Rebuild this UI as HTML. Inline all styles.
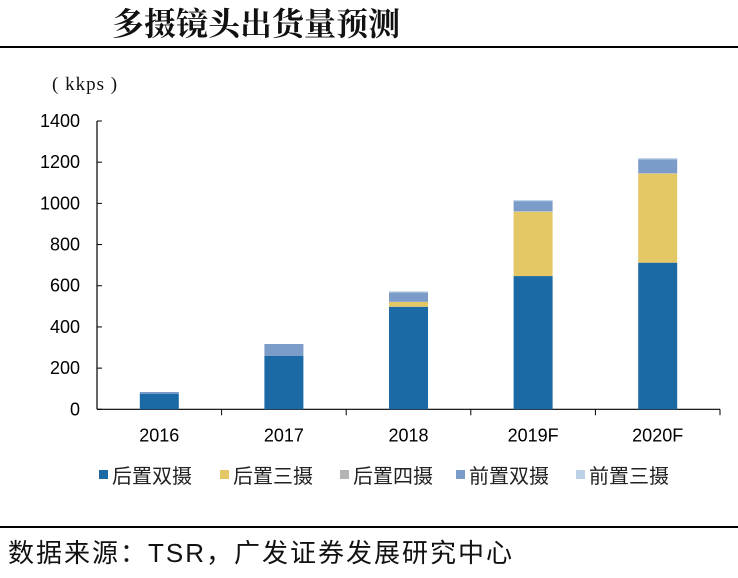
<!DOCTYPE html>
<html><head><meta charset="utf-8"><style>
body{margin:0;background:#fff;}
svg text{font-family:"Liberation Sans","Noto Sans CJK SC",sans-serif;}
</style></head><body>
<svg width="738" height="573" viewBox="0 0 738 573" xmlns="http://www.w3.org/2000/svg">
<text x="112" y="35" font-size="32" font-weight="bold" fill="#111" style="font-family:'Noto Serif CJK SC','Noto Sans CJK SC',serif">多摄镜头出货量预测</text>
<rect x="0" y="46" width="738" height="2" fill="#000"/>
<text x="52" y="90" font-size="19" fill="#111" letter-spacing="1" style="font-family:'Liberation Serif',serif">( kkps )</text>
<g id="axes"></g>
<g id="bars"></g>
<g id="legend"></g>
<rect x="0" y="526" width="738" height="2" fill="#000"/>
<text x="8" y="562" font-size="26" letter-spacing="2" fill="#111">数据来源：TSR，广发证券发展研究中心</text>
</svg>
<script>
const categories=["2016","2017","2018","2019F","2020F"];
const rearDual=[76,259,498,647,712];
const rearTriple=[0,0,24,312,432];
const rearQuad=[0,0,0,3,3];
const frontDual=[8,58,46,49,66];
const frontTriple=[0,0,5,5,7];
const yTicks=[0,200,400,600,800,1000,1200,1400];
const seriesNames=["后置双摄","后置三摄","后置四摄","前置双摄","前置三摄"];
const colors=["#1b6aa5","#e3c865","#b4b4b4","#7b9cc9","#bcd0e6"];
const NS="http://www.w3.org/2000/svg";
const x0=97,x1=720,yb=409.3,yt=121;
const y=v=>yb-(yb-yt)*v/1400;
const bw=(x1-x0)/categories.length;
function mk(t,a,p){const e=document.createElementNS(NS,t);for(const k in a)e.setAttribute(k,a[k]);p.appendChild(e);return e;}
const ax=document.getElementById('axes');
let l=mk('line',{x1:x0,y1:yt,x2:x0,y2:yb,stroke:'#000','stroke-width':1.2},ax);


l=mk('line',{x1:x0,y1:yb,x2:x1,y2:yb,stroke:'#000','stroke-width':1.2},ax);


yTicks.forEach(v=>{
 mk('line',{x1:x0,y1:y(v),x2:x0+5,y2:y(v),stroke:'#000'},ax);
 const t=mk('text',{x:80,y:y(v)+6,'font-size':18,'text-anchor':'end',fill:'#000'},ax);
 t.textContent=v;
 
 
});
categories.forEach((c,i)=>{
 mk('line',{x1:x0+bw*(i+1),y1:yb,x2:x0+bw*(i+1),y2:yb+6,stroke:'#000'},ax);
 const t=mk('text',{x:x0+bw*(i+0.5),y:yb+32,'font-size':18,'text-anchor':'middle',fill:'#000'},ax);
 t.textContent=c;
 
 
});
const series=[rearDual,rearTriple,rearQuad,frontDual,frontTriple];
const bg=document.getElementById('bars');
categories.forEach((c,i)=>{
 let acc=0;const cx=x0+bw*(i+0.5);
 series.forEach((s,k)=>{
  const v=s[i];if(!v){return;}
  const r=mk('rect',{x:cx-19.5,y:y(acc+v),width:39,height:y(acc)-y(acc+v),fill:colors[k]},bg);
  
  
  acc+=v;
 });
});
const lg=document.getElementById('legend');
const lx=[99,220,340,456,576];
seriesNames.forEach((n,k)=>{
 const g=mk('g',{},lg);
 
 
 mk('rect',{x:lx[k],y:470,width:9,height:9,fill:colors[k]},g);
 const t=mk('text',{x:lx[k]+13,y:483,'font-size':20,fill:'#222'},g);
 t.textContent=n;
});
</script>
</body></html>
